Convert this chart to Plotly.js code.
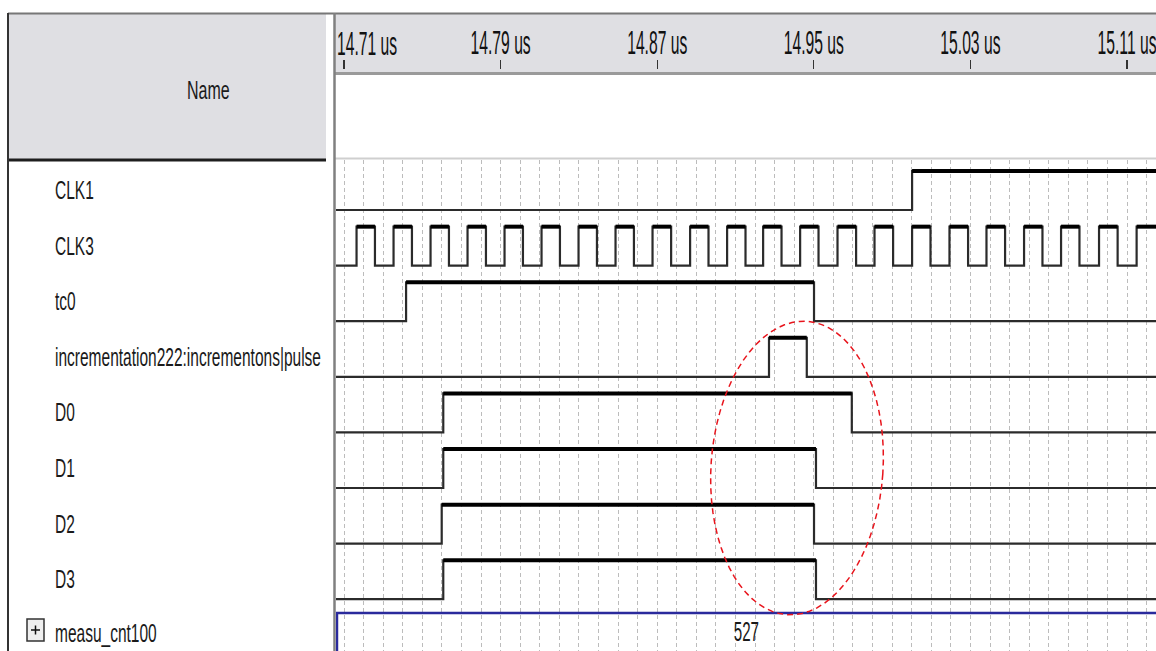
<!DOCTYPE html>
<html><head><meta charset="utf-8">
<script src="https://cdn.plot.ly/plotly-3.0.1.min.js"></script>
<style>html,body{margin:0;padding:0;background:#fff;overflow:hidden}#chart{width:1156px;height:651px}</style>
</head><body><div id="chart"></div>
<script>
// ---------------- data ----------------
const signalNames = ["CLK1", "CLK3", "tc0", "incrementation222:incrementons|pulse", "D0", "D1", "D2", "D3"];
const initLevels = [0, 0, 0, 0, 0, 0, 0, 0];
const clk1Edges = [15.0002];
const clk3Rise = [14.7164, 14.7353, 14.7542, 14.7731, 14.7920, 14.8109, 14.8298, 14.8487, 14.8676, 14.8868, 14.9057,
                  14.9241, 14.9430, 14.9621, 14.9810, 15.0002, 15.0193, 15.0382, 15.0574, 15.0763, 15.0957, 15.1149];
const clk3Fall = [14.7258, 14.7447, 14.7636, 14.7825, 14.8014, 14.8203, 14.8392, 14.8581, 14.8771, 14.8962, 14.9151,
                  14.9335, 14.9524, 14.9716, 14.9905, 15.0096, 15.0288, 15.0477, 15.0668, 15.0857, 15.1052];
const tc0Edges = [14.7417, 14.9501];
const pulseEdges = [14.9271, 14.9464];
const d0Edges = [14.7607, 14.9694];
const d1Edges = [14.7607, 14.9511];
const d2Edges = [14.7599, 14.9501];
const d3Edges = [14.7607, 14.9511];
const busName = "measu_cnt100";
const busValue = "527";
const busStart = 14.7064;
const rulerTicks = [14.71, 14.79, 14.87, 14.95, 15.03, 15.11];
const rulerLabels = ["14.71 us", "14.79 us", "14.87 us", "14.95 us", "15.03 us", "15.11 us"];
const viewStart = 14.7059, viewEnd = 15.1248;
const gridStart = 14.71, gridStep = 0.01;

// ---------------- helpers ----------------
const W = 1156, H = 651, ML = 336, MT = 13;
const PW = W - ML, PH = H - MT;
const fx = px => (px - ML) / PW;
const fy = py => (H - py) / PH;
const HIGH = 0.70;           // height of a logic-1 level in row units
const FONT = "'Liberation Sans', Arial, sans-serif";
const LABEL_SIZE = 25, RULER_SIZE = 33, NAME_SIZE = 25, VALUE_SIZE = 28;

const clk3Edges = clk3Rise.concat(clk3Fall).sort((a, b) => a - b);
const allEdges = [clk1Edges, clk3Edges, tc0Edges, pulseEdges, d0Edges, d1Edges, d2Edges, d3Edges];

const traces = [];
allEdges.forEach((edges, r) => {
  const base = -r;
  let lvl = initLevels[r];
  const xs = [viewStart], ys = [base + lvl * HIGH];
  const hx = [], hy = [];
  let segStart = viewStart;
  edges.forEach(t => {
    if (lvl === 1) { hx.push(segStart, t, null); hy.push(base + HIGH, base + HIGH, null); }
    lvl = 1 - lvl;
    segStart = t;
    xs.push(t); ys.push(base + lvl * HIGH);
  });
  if (lvl === 1) { hx.push(segStart, viewEnd, null); hy.push(base + HIGH, base + HIGH, null); }
  xs.push(viewEnd); ys.push(base + lvl * HIGH);
  traces.push({x: xs, y: ys, mode: 'lines', line: {shape: 'hv', color: '#2b2b2b', width: 2.2},
               hoverinfo: 'skip', showlegend: false, name: signalNames[r]});
  traces.push({x: hx, y: hy, mode: 'lines', line: {color: '#000', width: 4},
               hoverinfo: 'skip', showlegend: false, name: signalNames[r] + ' high'});
});

// bus row
const busRow = signalNames.length;
const busBase = -busRow, busTop = -busRow + 0.75;
traces.push({x: [viewEnd, busStart, busStart, viewEnd], y: [busBase, busBase, busTop, busTop], mode: 'lines',
             line: {color: '#2a2a9c', width: 2.5}, hoverinfo: 'skip', showlegend: false, name: busName});
// anchor trace for the ruler axis
traces.push({x: [rulerTicks[0]], y: [0], xaxis: 'x2', mode: 'markers', marker: {opacity: 0}, hoverinfo: 'skip', showlegend: false});

// ---------------- annotations ----------------
const annotations = [];
signalNames.forEach((n, r) => {
  annotations.push({text: n, xref: 'paper', x: fx(53), xanchor: 'left', yref: 'y', y: -r + 0.36, yanchor: 'middle',
                    showarrow: false, font: {family: FONT, size: LABEL_SIZE, color: '#1a1a1a'}});
});
annotations.push({text: busName, xref: 'paper', x: fx(53), xanchor: 'left', yref: 'y', y: -busRow + 0.40, yanchor: 'middle',
                  showarrow: false, font: {family: FONT, size: LABEL_SIZE, color: '#1a1a1a'}});
annotations.push({text: busValue, xref: 'x', x: (viewStart + viewEnd) / 2, xanchor: 'center', yref: 'y', y: (busBase + busTop) / 2 + 0.04, yanchor: 'middle',
                  showarrow: false, font: {family: FONT, size: VALUE_SIZE, color: '#1a1a1a'}});
annotations.push({text: 'Name', xref: 'paper', x: fx(208), xanchor: 'center', yref: 'paper', y: fy(90), yanchor: 'middle',
                  showarrow: false, font: {family: FONT, size: NAME_SIZE, color: '#1a1a1a'}});
annotations.push({text: rulerLabels[0], xref: 'x', x: rulerTicks[0], xanchor: 'left', xshift: -9, yref: 'paper', y: fy(44), yanchor: 'middle',
                  showarrow: false, font: {family: FONT, size: RULER_SIZE, color: '#111'}});

// ---------------- shapes ----------------
const P = (x0, y0, x1, y1) => ({x0: fx(x0), x1: fx(x1), y0: fy(y0), y1: fy(y1), xref: 'paper', yref: 'paper'});
const shapes = [
  Object.assign({type: 'rect', layer: 'below', fillcolor: '#dfdfe3', line: {width: 0}}, P(8, 13, 326, 159)),
  Object.assign({type: 'rect', layer: 'below', fillcolor: '#dfdfe3', line: {width: 0}}, P(335, 13, 1156, 72)),
  Object.assign({type: 'line', line: {color: '#777', width: 2}}, P(8, 13.5, 1156, 13.5)),
  Object.assign({type: 'line', line: {color: '#1e1e1e', width: 3}}, P(8, 160, 326, 160)),
  Object.assign({type: 'line', line: {color: '#9a9a9a', width: 3}}, P(335, 73.5, 1156, 73.5)),
  Object.assign({type: 'line', line: {color: '#cfcfcf', width: 2}}, P(335, 158.5, 1156, 158.5)),
  Object.assign({type: 'line', line: {color: '#333', width: 2}}, P(8, 13, 8, 651)),
  Object.assign({type: 'line', line: {color: '#808080', width: 2.5}}, P(334.5, 13, 334.5, 651)),
  Object.assign({type: 'rect', fillcolor: '#efefef', line: {color: '#333', width: 1.5}}, P(27, 619, 44, 641)),
  Object.assign({type: 'line', line: {color: '#111', width: 1.5}}, P(31, 630, 40, 630)),
  Object.assign({type: 'line', line: {color: '#111', width: 1.5}}, P(35.5, 625.5, 35.5, 634.5))
];
// red dashed highlight ellipse (slightly tilted)
(function () {
  const cx = 797, cy = 468, a = 86, b = 147, th = 0.068;
  let d = '';
  for (let i = 0; i <= 72; i++) {
    const ph = i / 72 * 2 * Math.PI;
    const X = a * Math.cos(ph), Y = b * Math.sin(ph);
    const px = cx + X * Math.cos(th) - Y * Math.sin(th);
    const py = cy + X * Math.sin(th) + Y * Math.cos(th);
    d += (i === 0 ? 'M' : 'L') + fx(px).toFixed(5) + ',' + fy(py).toFixed(5);
  }
  shapes.push({type: 'path', path: d + 'Z', xref: 'paper', yref: 'paper', layer: 'above',
               line: {color: '#e8141c', width: 1.5, dash: '6px,4px'}});
})();

const layout = {
  width: W, height: H,
  margin: {l: ML, r: 0, t: MT, b: 0, pad: 0},
  paper_bgcolor: '#ffffff', plot_bgcolor: 'rgba(0,0,0,0)',
  showlegend: false,
  xaxis: {range: [viewStart, viewEnd], domain: [0, 1], anchor: 'y', showgrid: true, tick0: gridStart, dtick: gridStep,
          gridcolor: '#bcbcbc', griddash: '4px,3px', gridwidth: 1, ticks: '', showticklabels: false,
          showline: false, zeroline: false, fixedrange: true},
  xaxis2: {range: [viewStart, viewEnd], matches: 'x', overlaying: 'x', anchor: 'free', position: fy(69), side: 'top',
           tickmode: 'array', tickvals: rulerTicks, ticktext: [''].concat(rulerLabels.slice(1)),
           ticks: 'outside', ticklen: 9, tickwidth: 1.3, tickcolor: '#333', ticklabelstandoff: -7,
           ticklabeloverflow: 'allow',
           tickfont: {family: FONT, size: RULER_SIZE, color: '#111'}, showgrid: false, showline: false, zeroline: false, fixedrange: true},
  yaxis: {range: [-7.932, 0.899], domain: [0, fy(160)], showgrid: false, showticklabels: false, ticks: '',
          showline: false, zeroline: false, fixedrange: true},
  shapes: shapes,
  annotations: annotations
};

// horizontal squeeze of the condensed screen font (text stays real text)
const leftAligned = new Set(signalNames.concat([busName, rulerLabels[0]]));
const squeezeOf = t => rulerLabels.indexOf(t) >= 0 ? 0.475 : (t === 'Name' ? 0.64 : (t === busValue ? 0.54 : 0.62));

Plotly.newPlot('chart', traces, layout, {staticPlot: true, displayModeBar: false}).then(gd => {
  gd.querySelectorAll('text.annotation-text, g.x2tick > text, .xtick > text').forEach(el => {
    const t = el.textContent;
    if (!t) return;
    const w = el.getComputedTextLength();
    if (!w) return;
    const k = squeezeOf(t);
    if (leftAligned.has(t)) {
      const anchor = el.getAttribute('text-anchor') || el.style.textAnchor || 'start';
      const x = parseFloat(el.getAttribute('x') || 0);
      let left = x;
      if (anchor === 'middle') left = x - w / 2; else if (anchor === 'end') left = x - w;
      el.setAttribute('text-anchor', 'start');
      el.style.textAnchor = 'start';
      el.setAttribute('x', left);
    }
    el.setAttribute('textLength', (w * k).toFixed(2));
    el.setAttribute('lengthAdjust', 'spacingAndGlyphs');
  });
});
</script>
</body></html>
